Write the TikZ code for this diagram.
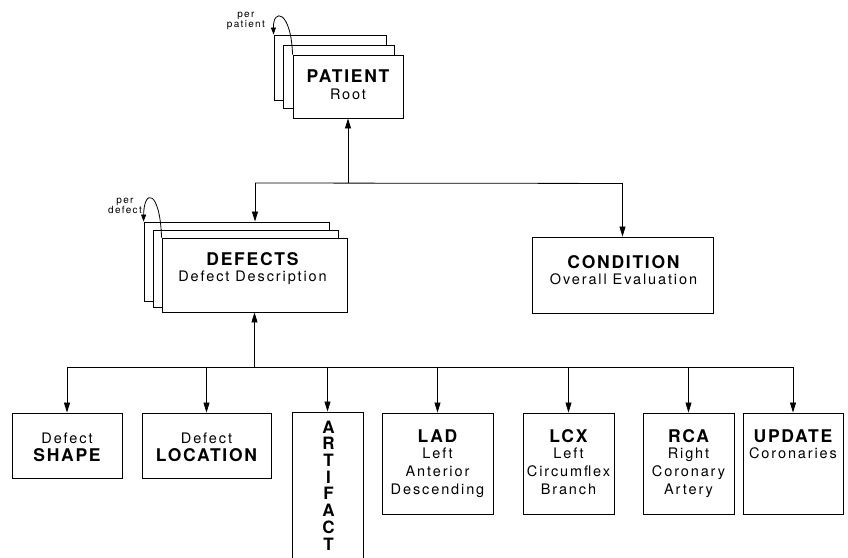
\documentclass[tikz,border=0pt]{standalone}
\usepackage{fontspec}
\usetikzlibrary{arrows.meta,calc}
\newfontfamily\hv[LetterSpace=10]{TeX Gyre Heros}
\newfontfamily\hvr[LetterSpace=13]{TeX Gyre Heros}
\newcommand\TitleF{\hv\bfseries\fontsize{17.5}{18}\selectfont}
\newcommand\BodyF{\hvr\fontsize{14.5}{18}\selectfont}
\newcommand\SmallF{\hvr\fontsize{10}{10}\selectfont}
\begin{document}
\begin{tikzpicture}[x=1pt,y=-1pt,
  box/.style={draw,line width=0.9pt,fill=white,inner sep=0,rectangle},
  txt/.style={anchor=north,inner sep=0,align=center,font=\BodyF},
  small/.style={inner sep=0,align=center,font=\SmallF},
  conn/.style={line width=0.8pt},
  arr/.style={conn,-{Triangle[length=10pt,width=6pt]}},
  loop/.style={conn,-{Triangle[length=7pt,width=5pt]}}]
\clip (0,0) rectangle (848,557);
\fill[white] (0,0) rectangle (848,557);

% PATIENT stack
\node[box,minimum width=112pt,minimum height=65pt] (patB) at (330,67.5) {};
\node[box,minimum width=111pt,minimum height=63pt] (patM) at (338.5,76.5) {};
\node[box,minimum width=110pt,minimum height=63pt] (patF) at (348,86.5) {};
\node[txt] (patT) at ($(patF.north)+(0,15)$) {{\TitleF PATIENT}\\[-1pt]Root};

% DEFECTS stack
\node[box,minimum width=185pt,minimum height=79pt] (defB) at (236.5,261.5) {};
\node[box,minimum width=185pt,minimum height=77pt] (defM) at (245.5,268.5) {};
\node[box,minimum width=185pt,minimum height=74pt] (defF) at (254.5,275) {};
\node[txt] (defT) at ($(defF.north)+(-2,15)$) {{\TitleF DEFECTS}\\[-2pt]Defect Description};

% CONDITION
\node[box,minimum width=181pt,minimum height=76pt] (cond) at (622.5,275) {};
\node[txt] (condT) at ($(cond.north)+(1,19)$) {{\TitleF CONDITION}\\[-2pt]Overall Evaluation};

% bottom row
\node[box,minimum width=110pt,minimum height=65pt] (shape) at (67,445.5) {};
\node[txt] (shapeT) at ($(shape.north)+(0,20)$) {Defect\\{\TitleF SHAPE}};
\node[box,minimum width=129pt,minimum height=65pt] (loc) at (206.5,445.5) {};
\node[txt] (locT) at ($(loc.north)+(0,20)$) {Defect\\{\TitleF LOCATION}};
\node[box,minimum width=71pt,minimum height=160pt] (art) at (327.5,492) {};
\node[txt,font=\hv\bfseries\fontsize{17}{16.7}\selectfont] (artT) at ($(art.north)+(1,9)$) {A\\R\\T\\I\\F\\A\\C\\T};
\node[box,minimum width=111pt,minimum height=101pt] (lad) at (437.5,463.5) {};
\node[txt] (ladT) at ($(lad.north)+(0,17)$) {{\TitleF LAD}\\[-2pt]Left\\Anterior\\Descending};
\node[box,minimum width=91pt,minimum height=101pt] (lcx) at (568.5,463.5) {};
\node[txt] (lcxT) at ($(lcx.north)+(0,17)$) {{\TitleF LCX}\\[-2pt]Left\\Circumflex\\Branch};
\node[box,minimum width=91pt,minimum height=101pt] (rca) at (688.5,463.5) {};
\node[txt] (rcaT) at ($(rca.north)+(0,17)$) {{\TitleF RCA}\\[-2pt]Right\\Coronary\\Artery};
\node[box,minimum width=100pt,minimum height=101pt] (upd) at (793,463.5) {};
\node[txt] (updT) at ($(upd.north)+(0,17)$) {{\TitleF UPDATE}\\[-2pt]Coronaries};

% loop labels
\node[small,anchor=east] (perP) at (265,21) {per\\patient};
\node[small,anchor=east] (perD) at (142,206) {per\\defect};

% loops
\draw[loop] (patF.north west) .. controls (291,10) and (273,8) .. (patB.north west);
\draw[loop] (defF.north west) .. controls (160,190) and (144,188) .. (defB.north west);

% upper tree
\path (patF.south) ++(0,65) coordinate (j1);
\coordinate (j1L) at (255,183);
\coordinate (j1R) at (cond.north |- j1);
\draw[arr] (j1) -- (patF.south);
\draw[conn] (j1L) -- (j1R);
\draw[arr] (j1L) -- (j1L |- defB.north);
\draw[arr] (j1R) -- (cond.north);

% lower tree
\path (defF.south) ++(0,55) coordinate (bus);
\coordinate (busL) at (shape.north |- bus);
\coordinate (busR) at (upd.north |- bus);
\draw[arr] (bus) -- (defF.south);
\draw[conn] (busL) -- (busR);
\foreach \n in {shape,loc,art,lad,lcx,rca,upd}
  \draw[arr] (\n.north |- bus) -- (\n.north);
\end{tikzpicture}
\end{document}
